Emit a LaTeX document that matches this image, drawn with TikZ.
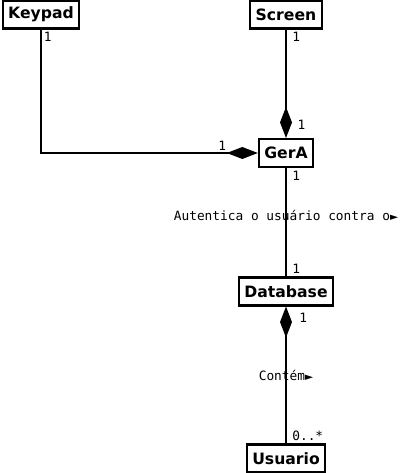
\documentclass[tikz,border=0pt]{standalone}
\usepackage{fontspec}
\setmainfont{DejaVu Sans}
\newfontfamily\monofont{DejaVu Sans Mono}
\newfontfamily\symfont{DejaVu Sans}
\usetikzlibrary{arrows.meta}

\tikzset{
	classe/.style={draw, line width=1.2pt, font=\bfseries\fontsize{8.9}{10}\selectfont,
		inner xsep=0.11cm, inner ysep=0pt, minimum height=0.56cm},
	mult/.style={font=\monofont\fontsize{7.3}{8}\selectfont, inner sep=1pt},
	comp/.style={-{Diamond[length=0.62cm, width=0.24cm]}},
	compinv/.style={{Diamond[length=0.62cm, width=0.24cm]}-},
}

\begin{document}
\begin{tikzpicture}[x=0.02cm, y=-0.02cm, line width=1.2pt]

\useasboundingbox (0, 0) rectangle (404, 473);

\foreach \n/\x/\y/\t in {
	keypad/41/14.5/Keypad,
	screen/286/14.5/Screen,
	gera/286/153/GerA,
	database/286/291.5/Database,
	usuario/286/458.5/Usuario}
	\node[classe] (\n) at (\x, \y) {\t};

\draw[comp] (keypad.south) node[mult, anchor=north west] {1}
	|- (gera.west) node[mult, anchor=south east, xshift=-0.58cm] {1};
\draw[comp] (screen.south) node[mult, anchor=north west, xshift=2pt] {1}
	-- (gera.north) node[mult, anchor=south west, xshift=5pt, yshift=3pt] {1};
\draw (gera.south) node[mult, anchor=north west, xshift=2pt] {1}
	-- node[mult, pos=0.44] {Autentica o usuário contra o{\symfont\fontsize{6}{6}\selectfont ►}}
	(database.north) node[mult, anchor=south west, xshift=2pt] {1};
\draw[compinv] (database.south) node[mult, anchor=north west, xshift=6pt, yshift=-2pt] {1}
	-- node[mult, pos=0.5] {Contém{\symfont\fontsize{6}{6}\selectfont ►}}
	(usuario.north) node[mult, anchor=south west, xshift=2pt] {0..*};

\end{tikzpicture}
\end{document}
